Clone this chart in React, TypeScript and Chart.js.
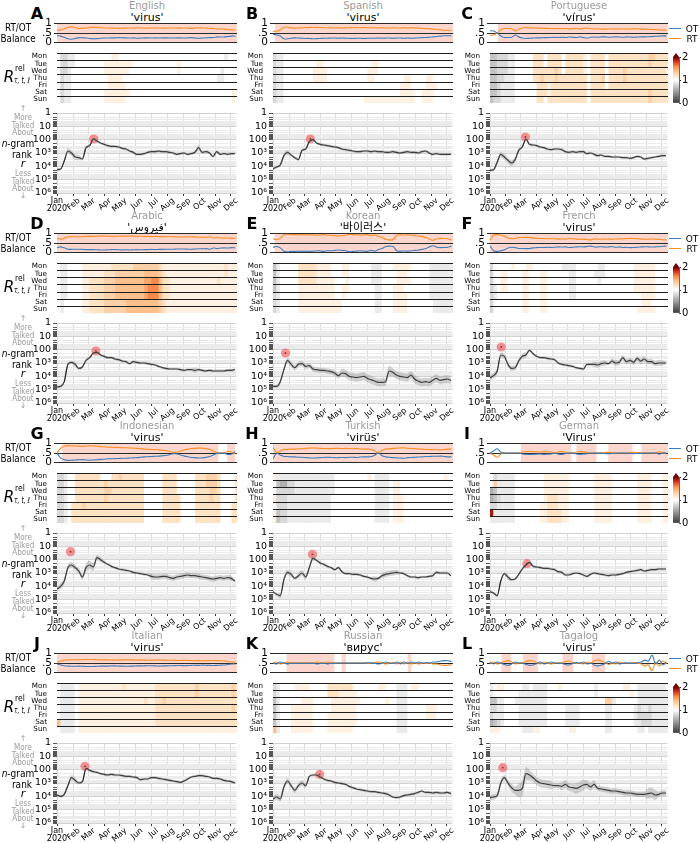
import React, { useEffect, useRef } from 'react';
import { Chart, registerables } from 'chart.js';

Chart.register(...registerables);
const FONT = "'DejaVu Sans', 'Noto Sans CJK KR', 'Noto Sans', sans-serif";
Chart.defaults.font.family = FONT;
Chart.defaults.color = '#000';

// ---------- axes / labels ----------
const MONTH_DAYS = [0, 31, 60, 91, 121, 152, 182, 213, 244, 274, 305, 335];
const MONTH_LABELS = ['', 'Feb', 'Mar', 'Apr', 'May', 'Jun', 'Jul', 'Aug', 'Sep', 'Oct', 'Nov', 'Dec'];
const DAY_LABELS = ['Mon', 'Tue', 'Wed', 'Thu', 'Fri', 'Sat', 'Sun'];
const RANK_TICKS = [1, 10, 100, 1000, 10000, 100000, 1000000];
const RANK_TICK_LABELS = ['1', '10', '100', '10³', '10⁴', '10⁵', '10⁶'];
const BAL_TICKS = [0, 0.5, 1];
const BAL_TICK_LABELS = ['0', '.5', '1'];
const CBAR_TICKS = [0, 1, 2];
const X_MAX = 346;
const WEEK_STEP = 7;

// ---------- rank series (log10 of n-gram rank, weekly) ----------
const rankA = [4.25,4.2,3.6,2.85,3.0,3.3,3.35,3.45,2.6,2.45, 1.95,2.1,2.25,2.35,2.45,2.5,2.5,2.55,2.65,2.7, 2.85,2.95,3.1,3.1,3.05,2.95,2.9,2.9,2.85,2.9, 2.9,2.95,3.0,3.1,3.05,3.0,3.1,3.05,2.95,2.6, 2.95,2.9,3.0,3.25,2.9,3.1,3.05,3.1,3.05,3.05];
const rankB = [4.2,4.05,3.9,3.2,2.95,3.15,3.35,3.5,2.8,2.7, 2.15,2.0,2.25,2.35,2.4,2.45,2.5,2.55,2.6,2.7, 2.75,2.8,2.85,2.9,2.9,2.85,2.85,2.9,2.85,2.9, 2.9,2.95,2.95,2.9,2.95,3.0,2.95,2.9,2.95,2.95, 3.0,2.9,2.85,3.0,3.1,3.05,3.1,3.1,3.1,3.1];
const rankC = [4.3,4.25,3.7,3.1,3.3,3.55,3.75,3.5,2.8,2.55, 1.95,2.35,2.4,2.45,2.55,2.6,2.7,2.75,2.7,2.7, 2.75,2.9,2.95,2.9,2.95,2.9,2.9,3.05,3.0,3.1, 3.2,3.15,3.25,3.25,3.3,3.3,3.3,3.35,3.35,3.4, 3.35,3.25,3.3,3.45,3.4,3.35,3.3,3.25,3.2,3.2];
const rankD = [4.8,4.75,4.4,3.1,2.95,3.1,3.4,3.3,2.8,2.6, 2.25,2.2,2.4,2.5,2.6,2.6,2.7,2.75,2.85,2.9, 3.05,2.9,2.95,3.0,3.0,3.05,3.1,3.15,3.25,3.35, 3.4,3.45,3.45,3.45,3.5,3.55,3.5,3.5,3.55,3.5, 3.55,3.6,3.55,3.6,3.6,3.6,3.6,3.55,3.55,3.5];
const rankE = [4.75,4.75,4.4,3.5,2.8,3.1,3.35,3.1,3.05,3.25, 3.2,3.45,3.5,3.55,3.55,3.6,3.65,3.75,3.95,3.75, 3.8,4.0,4.05,4.1,4.05,4.0,4.15,4.25,4.35,4.45, 4.45,4.4,3.6,3.7,3.9,4.0,4.05,4.1,3.9,4.2, 4.35,4.45,4.4,4.45,4.3,4.15,4.3,4.25,4.2,4.3];
const rankF = [4.1,3.95,3.6,2.4,2.5,3.1,3.4,3.35,2.85,2.5, 2.4,2.05,2.3,2.5,2.6,2.6,2.65,2.7,2.75,3.0, 3.1,3.15,3.2,3.25,3.35,3.4,3.45,3.1,3.1,3.1, 3.15,3.05,3.0,3.05,2.85,3.0,2.95,2.6,2.9,2.8, 2.95,2.65,2.85,2.7,2.9,2.9,3.05,3.0,3.0,3.0];
const rankG = [4.2,4.0,3.6,2.6,2.4,2.6,2.85,3.3,2.6,2.4, 2.55,1.85,2.0,2.2,2.35,2.5,2.6,2.7,2.75,2.8, 2.85,2.95,3.0,3.05,3.1,3.15,3.25,3.3,3.3,3.25, 3.25,3.35,3.4,3.3,3.25,3.2,3.15,3.2,3.2,3.25, 3.3,3.35,3.4,3.45,3.4,3.35,3.4,3.35,3.4,3.6];
const rankH = [4.4,4.6,4.7,3.5,2.95,3.1,3.4,3.2,3.0,3.3, 2.6,1.9,2.05,2.25,2.35,2.5,2.6,2.75,2.6,2.9, 3.05,3.05,3.1,3.1,3.15,3.25,3.3,3.4,3.45,3.4, 3.2,3.1,3.05,3.0,2.95,3.0,3.05,3.2,3.3,3.3, 3.35,3.3,3.3,3.25,3.2,2.95,3.0,3.0,3.0,3.2];
const rankI = [4.4,4.5,4.7,3.6,3.05,3.3,3.5,3.45,3.1,2.7, 2.4,2.2,2.5,2.55,2.6,2.65,2.65,2.7,2.75,2.9, 2.95,3.15,3.15,3.05,3.0,3.05,3.15,3.25,3.1,3.0, 3.05,3.1,3.15,3.2,3.15,3.15,3.1,3.05,2.95,2.9, 2.85,2.8,2.75,2.85,2.8,2.75,2.75,2.7,2.7,2.7];
const rankJ = [3.9,4.0,3.85,3.2,2.6,2.8,3.0,2.9,1.9,2.05, 2.15,2.2,2.3,2.35,2.4,2.35,2.4,2.4,2.45,2.5, 2.5,2.55,2.6,2.75,2.7,2.7,2.6,2.6,2.65,2.7, 2.75,2.8,2.85,2.9,2.95,2.85,2.7,2.55,2.5,2.45, 2.45,2.5,2.55,2.65,2.65,2.7,2.8,2.85,2.9,3.0];
const rankK = [4.2,4.05,4.2,3.3,2.85,3.2,3.55,3.2,3.0,3.2, 2.5,2.4,2.4,2.55,2.7,2.8,2.85,2.95,3.0,3.05, 3.1,3.25,3.35,3.45,3.5,3.55,3.6,3.65,3.65,3.7, 3.75,3.8,3.9,4.05,4.1,4.05,3.95,3.9,3.85,3.8, 3.7,3.6,3.7,3.7,3.75,3.7,3.75,3.75,3.7,3.8];
const rankL = [4.1,4.05,3.95,3.0,2.6,3.0,3.35,3.55,3.55,3.4, 2.3,2.4,2.6,2.85,3.0,3.05,3.1,3.15,3.2,3.2, 3.25,3.1,3.3,3.35,3.4,3.3,3.15,3.1,3.3,3.1, 3.4,3.45,3.5,3.55,3.6,3.6,3.65,3.7,3.75,3.75, 3.8,3.85,3.85,3.85,3.8,3.75,3.9,3.85,3.75,3.75];

// band half-width around rank line, tenths of a decade, weekly
const spreadA = '1112222111 1111111111 1111111111 1111111112 1111111111';
const spreadB = '1112211111 1111111111 1111111111 1111111111 1111111111';
const spreadC = '1122222221 1111111111 1111111111 1111111111 1111111111';
const spreadD = '1111121111 1111111111 1111111111 1111111121 1111111111';
const spreadE = '1122222222 2222222223 3333333333 3343333333 3333333333';
const spreadF = '2222222222 2111111111 1111111112 2221222222 2222222221';
const spreadG = '1222222233 3221111111 1111112222 2222222222 2222222221';
const spreadH = '1122221222 2211111111 1111111121 2222211111 1111111111';
const spreadI = '1111121111 1111111111 1111111111 1111111111 1111111111';
const spreadJ = '1111221111 1111111111 1111111111 1111111111 1111111111';
const spreadK = '2222222222 1111111111 1111111111 1111111111 1111111111';
const spreadL = '2222223356 5433333322 3333444333 2222222222 2222444222';

// peak marker: [day, log10 rank]
const peakA = [71, 1.95], peakB = [72, 1.95], peakC = [69, 1.8], peakD = [75, 2.1];
const peakE = [24, 2.25], peakF = [22, 1.8], peakG = [26, 1.4], peakH = [76, 1.6];
const peakI = [72, 2.3], peakJ = [54, 1.75], peakK = [90, 2.35], peakL = [25, 1.85];

// ---------- RT share of usage (OT = 1 - RT), weekly ----------
const rtA = [0.63,0.66,0.72,0.8,0.82,0.78,0.74,0.75,0.76,0.78, 0.8,0.79,0.77,0.76,0.76,0.75,0.75,0.74,0.75,0.75, 0.76,0.75,0.77,0.76,0.75,0.75,0.76,0.75,0.76,0.75, 0.75,0.76,0.76,0.75,0.75,0.76,0.75,0.74,0.76,0.77, 0.76,0.75,0.74,0.73,0.7,0.71,0.7,0.68,0.66,0.66];
const rtB = [0.58,0.6,0.66,0.8,0.8,0.77,0.75,0.76,0.77,0.78, 0.78,0.8,0.79,0.78,0.77,0.77,0.76,0.76,0.77,0.76, 0.77,0.77,0.78,0.77,0.77,0.78,0.77,0.77,0.77,0.76, 0.77,0.76,0.76,0.77,0.76,0.76,0.77,0.76,0.77,0.76, 0.75,0.74,0.73,0.72,0.7,0.68,0.66,0.64,0.64,0.64];
const rtC = [0.38,0.4,0.5,0.65,0.73,0.73,0.72,0.6,0.7,0.76, 0.78,0.77,0.76,0.75,0.75,0.74,0.74,0.73,0.72,0.73, 0.72,0.73,0.71,0.72,0.73,0.7,0.74,0.76,0.72,0.71, 0.72,0.7,0.7,0.72,0.71,0.7,0.71,0.72,0.7,0.71, 0.72,0.71,0.7,0.7,0.69,0.68,0.67,0.66,0.65,0.65];
const rtD = [0.74,0.7,0.75,0.82,0.83,0.82,0.82,0.83,0.84,0.84, 0.84,0.85,0.86,0.86,0.85,0.84,0.84,0.85,0.86,0.85, 0.86,0.85,0.84,0.85,0.84,0.84,0.83,0.84,0.83,0.83, 0.82,0.82,0.82,0.81,0.81,0.81,0.82,0.82,0.81,0.8, 0.8,0.79,0.82,0.76,0.78,0.76,0.75,0.76,0.74,0.75];
const rtE = [0.72,0.68,0.75,0.92,0.95,0.93,0.93,0.92,0.93,0.92, 0.93,0.92,0.9,0.91,0.93,0.9,0.9,0.88,0.86,0.88, 0.9,0.95,0.93,0.92,0.9,0.92,0.93,0.88,0.92,0.84, 0.78,0.68,0.66,0.68,0.9,0.92,0.91,0.92,0.9,0.88, 0.86,0.83,0.78,0.7,0.64,0.72,0.74,0.73,0.72,0.66];
const rtF = [0.65,0.9,0.93,0.9,0.85,0.76,0.72,0.74,0.78,0.78, 0.79,0.78,0.75,0.74,0.73,0.73,0.72,0.73,0.72,0.7, 0.71,0.7,0.73,0.72,0.7,0.69,0.7,0.68,0.66,0.71, 0.7,0.69,0.71,0.7,0.69,0.72,0.7,0.73,0.72,0.74, 0.73,0.72,0.7,0.69,0.7,0.71,0.7,0.69,0.67,0.66];
const rtG = [0.5,0.75,0.85,0.88,0.87,0.86,0.85,0.84,0.86,0.87, 0.86,0.85,0.83,0.82,0.8,0.8,0.79,0.78,0.77,0.77, 0.76,0.75,0.74,0.72,0.7,0.69,0.68,0.67,0.66,0.64, 0.62,0.58,0.53,0.55,0.6,0.66,0.7,0.73,0.74,0.76, 0.75,0.72,0.68,0.6,0.52,0.5,0.52,0.58,0.55,0.44];
const rtH = [0.8,0.52,0.6,0.68,0.68,0.7,0.7,0.72,0.72,0.74, 0.75,0.76,0.75,0.74,0.73,0.72,0.73,0.74,0.74,0.73, 0.74,0.72,0.72,0.73,0.71,0.7,0.7,0.68,0.6,0.5, 0.64,0.7,0.72,0.74,0.75,0.76,0.77,0.74,0.73,0.72, 0.71,0.7,0.68,0.68,0.67,0.67,0.66,0.68,0.7,0.7];
const rtI = [0.5,0.4,0.28,0.45,0.5,0.5,0.5,0.5,0.5,0.55, 0.57,0.58,0.57,0.56,0.55,0.57,0.56,0.55,0.5,0.56, 0.57,0.53,0.5,0.5,0.55,0.57,0.55,0.53,0.5,0.5, 0.5,0.5,0.53,0.54,0.52,0.5,0.5,0.5,0.5,0.52, 0.53,0.52,0.52,0.5,0.5,0.5,0.5,0.56,0.5,0.5];
const rtJ = [0.55,0.6,0.64,0.66,0.67,0.67,0.66,0.67,0.68,0.68, 0.68,0.67,0.66,0.66,0.66,0.65,0.65,0.66,0.66,0.67, 0.66,0.66,0.65,0.65,0.65,0.64,0.64,0.65,0.66,0.65, 0.65,0.64,0.64,0.63,0.63,0.64,0.63,0.62,0.62,0.62, 0.61,0.62,0.62,0.63,0.62,0.61,0.6,0.58,0.55,0.55];
const rtK = [0.5,0.55,0.45,0.5,0.55,0.5,0.52,0.5,0.52,0.5, 0.52,0.5,0.55,0.52,0.5,0.55,0.5,0.52,0.5,0.5, 0.5,0.5,0.5,0.5,0.5,0.52,0.48,0.5,0.52,0.55, 0.5,0.45,0.5,0.52,0.45,0.55,0.45,0.52,0.45,0.5, 0.45,0.5,0.48,0.5,0.45,0.45,0.4,0.38,0.38,0.42];
const rtL = [0.45,0.55,0.45,0.5,0.58,0.62,0.55,0.45,0.5,0.5, 0.58,0.62,0.6,0.52,0.45,0.55,0.5,0.45,0.5,0.5, 0.52,0.58,0.6,0.52,0.48,0.5,0.45,0.55,0.5,0.62, 0.65,0.6,0.52,0.42,0.5,0.45,0.55,0.5,0.5,0.5, 0.52,0.48,0.45,0.35,0.4,0.1,0.55,0.35,0.6,0.45];

// RT-dominated periods (day ranges)
const shadeA = [[0, 346]], shadeB = [[4, 346]], shadeC = [[15, 346]], shadeD = [[0, 346]];
const shadeE = [[3, 346]], shadeF = [[0, 346]], shadeG = [[10, 310], [327, 342]], shadeH = [[0, 346]];
const shadeI = [[60, 158], [168, 207], [230, 277], [294, 346]], shadeJ = [[0, 346]];
const shadeK = [[26, 118], [132, 140], [259, 266]], shadeL = [[22, 41], [64, 93], [141, 162], [198, 224]];

// ---------- relative rank heatmaps: rows Mon..Sun, weekly columns ----------
// code: '0'..'9' = 0.0..0.9, 'a' = 1.0, 'b' = 1.1 ... 'k' = 2.0
const heatA = [
  'a8899aaaaa aaaaabbaaa aaaaaaaaaa aaaaaaaaaa aaaaaa9aaa',
  'a8899aaaaa aaabbbbbbb baaaaaaaaa aaabaaaaaa aaaaaaaaaa',
  'a889aaaaaa aaabbbbbbb aaaaaaaaaa aaabaaaaaa aaaaa9aaaa',
  'a899aaaaaa aaaabbbbaa aaaaaaaaaa aaaaaaaaaa aaaa99aaaa',
  'a899aaaaaa aaaabbbbba aaaaaaaaaa aaaaaaaaaa aaaaaaaaaa',
  'a899aaaaaa aaabbbbbbb aaaaaaaaaa aaaaaaaaaa aaaaaaaaba',
  'a899aaaaaa aaabbbbbba aaaaaaaaaa aaaaaaaaaa aaaaaaaaba',
];
const heatB = [
  '899aaaaaaa aaaaaaaaaa aaaaaaaaaa aaaaaaaaaa aaaaaaaaaa',
  '899aaaaaaa aabbaaaaaa aaaaaaabba aaaaaaaaaa aaaaaaaaaa',
  '899aaaaaaa abbbbaaaaa aaaaaabbba aaaaaaaaaa aaaaaaaaaa',
  '899aaaaaaa abbbbaaaaa aaaaaabbaa aaaaaabbaa aabbaaaaaa',
  '899aaaaaaa aaaaaaaaaa aaaaaaaaaa aaaaabbbaa aabbbaaaaa',
  '899aaaaaaa aaaaaaaaaa aaaaaaaaaa aaaaabbbba abbbaaaaaa',
  '899aaaaaaa aaaaaaaaaa aaaaabbbbb bbbbbbbbba abbbaaaaaa',
];
const heatC = [
  '7788899aaa aacccacccc acccccbacc ccaccccccc ccccddcccc',
  '7788899aaa aacccacccc acccccbacc ccaccccccc ccccdccccc',
  '7788899aaa aaccccccdc acccccbacc ccaccccdcc cccccccccb',
  '7788999aaa aaccdcccdc cccccccacc cdaccccdcc cccccccccc',
  '7789999aaa aaacccbccc cccccccacc ccaccccccc cccccccccc',
  '7789999aaa aaacccbccc cccccccacc cccccccccc ccccdccccc',
  '7889999aaa aaaccacccc cccccccacc cccccccccc ccccdccccc',
];
const heatD = [
  'a99aaaabbb bbbbbccccc cdddddddcb bbbbbbbbbb bbbbbbcbbb',
  'a99aaaabbb bbbcccdddd ddddeeeedc bbbbbbbbbb bbbbbbcbbb',
  'a99aaaabbc cccdddeeee eeeeffggec cbbbbbbbbb bbbbcbbbbb',
  'a99aaaabbc cccdddeeee eeeefgggec cbbbbbbbbb bbbbbbbbbb',
  'a99aaaabbc cccdddeeee eeeefgggec cbbbbbbbbb bbbbbbbbbb',
  'a9aaaaabbc cccdddddde eeeeeeeedc bbbbbbbbbb bbbbbbbbbb',
  'a9aaaaabbc cccdddddde eeeeeeeedc bbbbbbbbbb bbbbbbbbbb',
];
const heatE = [
  '79aaaaaccc ccbbbbaaab baaaaaa999 aaabbbbbaa aaa9999999',
  '79aaaaaccc ccbbbbaaab baaaaaa999 aaaabbbaaa aaa9999999',
  '79aaaaaccc ccbbbbbaaa baaaaaa999 aaaabbbbaa aaa9999999',
  '79aaaaabbb bbbbbbbaab baaaaaaa99 aaabbbaaaa aaa9999999',
  '89aaaaabbb bbbbbbbaab aaaaaaaa99 aaabbbbaaa aaa9999999',
  '89aaaaabbb bbbbbbbbba aaaaaaaa99 aaabbbbaaa aaaa999999',
  '89aaaaabbb bbbbbbbbba aaaaaaaa99 aaabbbbaaa aaaa999999',
];
const heatF = [
  '8aaaaabaaa bbaaaaaaaa 9999aaaaaa 99aaaaaaaa bbbbbbaaaa',
  '8aabbaaaab baaabbaaaa aa99aaaaa9 99aaaaaaaa bbbbbbaaaa',
  '8aabbaaaab baaabbaaaa aa99aaaaaa 9aaaaaaaaa bbbbbbaaaa',
  '89abbaaaab baaabbaaaa aa99aaaaaa aaaaaaaaaa bbbbbbaaaa',
  '89aaaaaaab baaabbaaaa aa99aaaaaa aaaaaaaaaa aabbbbaaaa',
  '8aaaaaaaab baaabbaaaa aaaaaaaaaa aaaaaaaaaa aabbbaaaaa',
  '8aaaaaaaab baaabbaaaa aaaaaaaaaa aaaaaaaaaa abbbbbaaaa',
];
const heatG = [
  '889aaccccc ccaaaccdcc ccccaaaaac cccaaaaacc cdddcaaaac',
  '889aaccccc cccdcccccc ccccaaaaac cccaaaaacc cdddcaaaac',
  '889aaccccc cccddccccc ccccaaaaac cccaaaaacc ccddcaaaac',
  '889aaccccc cccdcccccc ccccaaaaac ccccaaaacc ccdccaaaac',
  '889acccdcc cccccccccc ccccaaaaac ccccaaaacc cccccaaacc',
  '889acccccc cccccccccc ccccaaaaac ccccaaaacc cccccaaacc',
  '889acccccc cccccccccc ccccaaaaac ccccaaaacc cccccaaacc',
];
const heatH = [
  'b999999999 9999999aaa aaaaaaba99 99aaaaaaaa aaaaaaabaa',
  'a766889999 9999999aaa aaaaaaaa99 99abbaaaaa aaaaaaaaaa',
  'a888889999 9999999aaa aaaaaaaa99 99abbaaaaa aaaaaaaaaa',
  'b888999999 999999aaaa aaaaaaaa99 99abbbaaaa aaaaaaaaaa',
  'a888999999 999999aaaa aaaaaaaa99 99abbbaaaa aaaaaaaaaa',
  'b788999999 999999aaaa aaaaaaaa99 99abbbaaaa aaaaaaaaaa',
  'b788999999 999999aaaa aaaaaaaa99 99abbbaaaa aaaaaaaaaa',
];
const heatI = [
  'a899999aaa aaaaabbbbb bbaaaaaaab bbbbaaaaaa abbbbaaabb',
  'ad99999aaa aaaaabbbbb bbaaaaaaab bbbbaaaaaa abbbbaaabb',
  '6799999aaa aaaaabbbbb bbaaaaaaab bbbbaaaaaa abbbbaaabb',
  '6789999aaa aaaaabcccb bbaaaaaaab bbbbaaaaaa abbbbaaabb',
  '8899999aaa aaaabbcccb bbaaaaaaab bbbbaaaaaa abbbbaaabb',
  'j999999aaa aaaabbcccc bbaaaaaaab bbbbaaaaaa abbbbaaabb',
  '9999999aaa aaaabbcccc bbaaaaaaab bbbbaaaaaa abbbbaaabb',
];
const heatJ = [
  'a9999abbbb bbbbbbbbcb bbbbbbbccc ccccccccdc ccccccccdc',
  'a9999abbbb bbbbbbbbbb bbbbbbbccc ccccccccdc ccccccccdc',
  'a9999abbbb bbbbbbbbbb bbbbcbbccd cccccccccc cccccccccc',
  'a9999abbbb bbbbbbbbbb bbbbbbbccc cccccccccc ccccccccdc',
  'a9999abbbb bbbbbbbbbb bbbbbbbccc cccccccccc cccccccccc',
  'e9999abbbb bbbbbbbbbb bbbbbbbccc cccccccccc cccccccccc',
  'a9999abbbb bbbbbbbbbb bbbbbbbbbb bbbbbbbbbb bbbbbbbbbb',
];
const heatK = [
  '89aaaabbbb aaaaaccccc ccaaaaaaab baaa999abb aaaaaaaaaa',
  '89aaaaaaaa aaaaacccbb bbbaaaaaaa aaaa999aaa aaaaaaaaaa',
  '79aaaaaabb baaaaabbbb bbbbaaaaaa abaa999aaa aaaaaaaaaa',
  '79aaabbbbb baaaaabbbb bbbaaaaaaa aaaa999aaa aabbbaaaaa',
  '79aaabbbbb baaaabbbbb bbbaaaaaaa aaaa999aaa aabbbaaaaa',
  '79aaabbbbb baaaabbbbb bbbaaaaaaa aaaa999aaa aaaaaaaaaa',
  'e9aaabbbbb baaaabbbbb bbaaaaaaaa aaaa999aaa aaaaaaaaaa',
];
const heatL = [
  '9abbaaaaa9 9a9999aaab aaaaaaaaa9 aaaaaaabba a99999999a',
  '9aaaaaaa99 999999aaaa aaaaaaaaa9 aaaaaaaaab a999999999',
  '7799aaa999 999999aaaa aaaaaaaaaa aadd9aaaaa a999999999',
  '8899aaaa99 999999aaaa a9999aaaaa aa99aaaaaa 9899899999',
  '8999aaaa99 999999aaaa a9999aaaaa aa99aaaaaa 9888899999',
  '6789aaaa99 999999aaaa a9999aaaaa aa99aaaaaa 9988899999',
  'bbbaaaaaa9 99bbaaaaaa aabbaaaaaa aa99aaaaaa a99a999999',
];

const PANELS = [
  { id: 'A', lang: 'English', word: "'virus'", rank: rankA, spread: spreadA, peak: peakA, rt: rtA, shade: shadeA, heat: heatA },
  { id: 'B', lang: 'Spanish', word: "'virus'", rank: rankB, spread: spreadB, peak: peakB, rt: rtB, shade: shadeB, heat: heatB },
  { id: 'C', lang: 'Portuguese', word: "'vírus'", rank: rankC, spread: spreadC, peak: peakC, rt: rtC, shade: shadeC, heat: heatC },
  { id: 'D', lang: 'Arabic', word: "'فيروس'", rank: rankD, spread: spreadD, peak: peakD, rt: rtD, shade: shadeD, heat: heatD },
  { id: 'E', lang: 'Korean', word: "'바이러스'", rank: rankE, spread: spreadE, peak: peakE, rt: rtE, shade: shadeE, heat: heatE },
  { id: 'F', lang: 'French', word: "'virus'", rank: rankF, spread: spreadF, peak: peakF, rt: rtF, shade: shadeF, heat: heatF },
  { id: 'G', lang: 'Indonesian', word: "'virus'", rank: rankG, spread: spreadG, peak: peakG, rt: rtG, shade: shadeG, heat: heatG },
  { id: 'H', lang: 'Turkish', word: "'virüs'", rank: rankH, spread: spreadH, peak: peakH, rt: rtH, shade: shadeH, heat: heatH },
  { id: 'I', lang: 'German', word: "'Virus'", rank: rankI, spread: spreadI, peak: peakI, rt: rtI, shade: shadeI, heat: heatI },
  { id: 'J', lang: 'Italian', word: "'virus'", rank: rankJ, spread: spreadJ, peak: peakJ, rt: rtJ, shade: shadeJ, heat: heatJ },
  { id: 'K', lang: 'Russian', word: "'вирус'", rank: rankK, spread: spreadK, peak: peakK, rt: rtK, shade: shadeK, heat: heatK },
  { id: 'L', lang: 'Tagalog', word: "'virus'", rank: rankL, spread: spreadL, peak: peakL, rt: rtL, shade: shadeL, heat: heatL },
];

// ---------- styling / layout ----------
const AXW = 36;
const COL_LEFT = [57, 273, 490];
const COL_RIGHT = [237, 453, 668];
const LETTER_X = [37, 252, 467];
const ROW_H = 210;
const PAD = 8;
const OT_COLOR = '#3b7ec0';
const RT_COLOR = '#ff8c1f';
const SHADE_COLOR = 'rgba(244,120,90,0.3)';
const CMAP: [number, string][] = [
  [0, '#3a3a3a'], [1, '#ffffff'], [1.2, '#fde3c4'], [1.4, '#fcc08c'],
  [1.6, '#f7894a'], [1.8, '#d7301f'], [2, '#6e0000'],
];
const HEAT_CODES = '0123456789abcdefghijk';

function hexRgb(h: string) {
  return [parseInt(h.slice(1, 3), 16), parseInt(h.slice(3, 5), 16), parseInt(h.slice(5, 7), 16)];
}
function heatColor(v: number) {
  for (let i = 1; i < CMAP.length; i++) {
    if (v <= CMAP[i][0]) {
      const [v0, c0] = CMAP[i - 1];
      const [v1, c1] = CMAP[i];
      const t = (v - v0) / (v1 - v0);
      const a = hexRgb(c0), b = hexRgb(c1);
      return `rgb(${a.map((x, k) => Math.round(x + (b[k] - x) * t)).join(',')})`;
    }
  }
  return CMAP[CMAP.length - 1][1];
}
const parseHeat = (s: string) => s.replace(/ /g, '').split('').map((c) => HEAT_CODES.indexOf(c) / 10);
const parseSpread = (s: string) => s.replace(/ /g, '').split('').map((c) => Number(c) / 10);
const isPow10 = (v: number) => Math.abs(Math.log10(v) - Math.round(Math.log10(v))) < 1e-9;

const baseOpts = (padTop: number, padBottom: number) => ({
  animation: false,
  responsive: false,
  events: [],
  layout: { padding: { top: padTop, bottom: padBottom, left: 0, right: 4 } },
  plugins: { legend: { display: false }, tooltip: { enabled: false } },
});

function balanceConfig(p: any) {
  const xs = p.rt.map((_: number, i: number) => i * WEEK_STEP);
  return {
    type: 'line',
    data: {
      datasets: [
        { data: p.rt.map((v: number, i: number) => ({ x: xs[i], y: 1 - v })), borderColor: OT_COLOR, borderWidth: 1.1, pointRadius: 0, tension: 0.4 },
        { data: p.rt.map((v: number, i: number) => ({ x: xs[i], y: v })), borderColor: RT_COLOR, borderWidth: 1.1, pointRadius: 0, tension: 0.4 },
      ],
    },
    options: {
      ...baseOpts(PAD, PAD),
      scales: {
        x: { type: 'linear', min: 0, max: X_MAX, display: false },
        y: {
          type: 'linear', min: 0, max: 1,
          afterFit: (s: any) => { s.width = AXW; },
          afterBuildTicks: (s: any) => { s.ticks = BAL_TICKS.map((v) => ({ value: v })); },
          ticks: { autoSkip: false, callback: (_v: any, i: number) => BAL_TICK_LABELS[i], font: { size: 10.5 }, color: '#000', padding: 2 },
          grid: { color: '#2a2a2a', lineWidth: 1, tickLength: 3, tickColor: '#2a2a2a' },
          border: { display: false },
        },
      },
    },
    plugins: [{
      id: 'shade',
      beforeDraw(chart: any) {
        const { ctx, chartArea, scales } = chart;
        ctx.save();
        ctx.fillStyle = SHADE_COLOR;
        for (const [a, b] of p.shade) {
          const x1 = scales.x.getPixelForValue(a);
          const x2 = scales.x.getPixelForValue(Math.min(b, X_MAX));
          ctx.fillRect(x1, chartArea.top, x2 - x1, chartArea.bottom - chartArea.top);
        }
        ctx.restore();
      },
    }],
  };
}

function heatConfig(p: any) {
  const rows = p.heat.map(parseHeat);
  return {
    type: 'bar',
    data: {
      datasets: rows.map((vals: number[], r: number) => ({
        data: vals.map((_, i) => ({ x: i * WEEK_STEP + WEEK_STEP / 2, y: [r, r + 1] })),
        backgroundColor: vals.map(heatColor),
        borderWidth: 0,
        barPercentage: 1,
        categoryPercentage: 1,
        grouped: false,
      })),
    },
    options: {
      ...baseOpts(PAD, PAD),
      scales: {
        x: { type: 'linear', min: 0, max: X_MAX, display: false, offset: false },
        y: {
          type: 'linear', min: 0, max: 7, reverse: true,
          afterFit: (s: any) => { s.width = AXW; },
          afterBuildTicks: (s: any) => { s.ticks = DAY_LABELS.map((_, i) => ({ value: i + 0.5 })); },
          ticks: { autoSkip: false, callback: (_v: any, i: number) => DAY_LABELS[i], font: { size: 7.2 }, color: '#000', padding: 2 },
          grid: { display: false },
          border: { display: false },
        },
      },
    },
    plugins: [{
      id: 'rowlines',
      afterDatasetsDraw(chart: any) {
        const { ctx, chartArea, scales } = chart;
        ctx.save();
        ctx.strokeStyle = '#1e1e1e';
        ctx.lineWidth = 1;
        for (let r = 0; r < DAY_LABELS.length; r++) {
          const y = Math.round(scales.y.getPixelForValue(r)) + 0.5;
          ctx.beginPath();
          ctx.moveTo(chartArea.left, y);
          ctx.lineTo(chartArea.right, y);
          ctx.stroke();
        }
        ctx.restore();
      },
    }],
  };
}

function rankConfig(p: any) {
  const xs = p.rank.map((_: number, i: number) => i * WEEK_STEP);
  const sp = parseSpread(p.spread);
  const yTicks: number[] = [];
  for (let k = 0; k < RANK_TICKS.length - 1; k++) for (let m = 1; m <= 9; m++) yTicks.push(m * RANK_TICKS[k]);
  yTicks.push(RANK_TICKS[RANK_TICKS.length - 1]);
  const peakPt = [{ x: p.peak[0], y: 10 ** p.peak[1] }];
  const lineOpts = { pointRadius: 0, cubicInterpolationMode: 'monotone' };
  return {
    type: 'line',
    data: {
      datasets: [
        { data: p.rank.map((v: number, i: number) => ({ x: xs[i], y: 10 ** (v - sp[i]) })), borderWidth: 0, fill: false, ...lineOpts },
        { data: p.rank.map((v: number, i: number) => ({ x: xs[i], y: 10 ** (v + sp[i]) })), borderWidth: 0, fill: '-1', backgroundColor: 'rgba(150,150,150,0.42)', ...lineOpts },
        { data: p.rank.map((v: number, i: number) => ({ x: xs[i], y: 10 ** v })), borderColor: '#000', borderWidth: 1.2, fill: false, ...lineOpts },
        { data: peakPt, showLine: false, pointRadius: 4.6, pointBackgroundColor: 'rgba(238,78,78,0.6)', pointBorderWidth: 0 },
        { data: peakPt, showLine: false, pointRadius: 0.9, pointBackgroundColor: '#000', pointBorderWidth: 0 },
      ],
    },
    options: {
      ...baseOpts(PAD, 0),
      scales: {
        x: {
          type: 'linear', min: 0, max: X_MAX,
          afterFit: (s: any) => { s.height = 24; },
          afterBuildTicks: (s: any) => { s.ticks = MONTH_DAYS.map((v) => ({ value: v })); },
          ticks: { callback: (_v: any, i: number) => MONTH_LABELS[i], autoSkip: false, maxRotation: 40, minRotation: 40, font: { size: 8 }, color: '#000', padding: 0, labelOffset: 6 },
          grid: { color: '#d9d9d9', lineWidth: 1, tickLength: 3, tickColor: '#333' },
          border: { display: false },
        },
        y: {
          type: 'logarithmic', min: 1, max: 1e6, reverse: true,
          afterFit: (s: any) => { s.width = AXW; },
          afterBuildTicks: (s: any) => { s.ticks = yTicks.map((v) => ({ value: v })); },
          ticks: {
            autoSkip: false, font: { size: 9.5 }, color: '#000', padding: 2,
            callback: (v: number) => { const k = RANK_TICKS.indexOf(v); return k >= 0 ? RANK_TICK_LABELS[k] : ''; },
          },
          grid: {
            color: (c: any) => (c.tick && isPow10(c.tick.value) ? '#d2d2d2' : '#ebebeb'),
            lineWidth: 1, tickLength: 4, tickColor: '#555',
          },
          border: { display: false },
        },
      },
    },
  };
}

function colorbarConfig() {
  return {
    type: 'bar',
    data: {
      labels: [''],
      datasets: [{
        data: [[0, 2]],
        backgroundColor: (c: any) => {
          const area = c.chart.chartArea;
          if (!area) return '#fff';
          const g = c.chart.ctx.createLinearGradient(0, area.bottom, 0, area.top);
          CMAP.forEach(([v, col]) => g.addColorStop(v / 2, col));
          return g;
        },
        borderWidth: 0, barPercentage: 1, categoryPercentage: 1,
      }],
    },
    options: {
      animation: false, responsive: false, events: [],
      layout: { padding: { top: PAD, bottom: PAD, left: 0, right: 0 } },
      plugins: { legend: { display: false }, tooltip: { enabled: false } },
      scales: {
        x: { display: false },
        y: {
          position: 'right', min: 0, max: 2,
          afterFit: (s: any) => { s.width = 14; },
          afterBuildTicks: (s: any) => { s.ticks = CBAR_TICKS.map((v) => ({ value: v })); },
          ticks: { autoSkip: false, font: { size: 10 }, color: '#000', padding: 1, callback: (v: number) => String(v) },
          grid: { drawOnChartArea: false, tickLength: 2, tickColor: '#333' },
          border: { display: true, color: '#666' },
        },
      },
    },
    plugins: [{
      id: 'extend',
      afterDatasetsDraw(chart: any) {
        const { ctx, chartArea } = chart;
        ctx.save();
        ctx.fillStyle = CMAP[CMAP.length - 1][1];
        ctx.beginPath();
        ctx.moveTo(chartArea.left, chartArea.top);
        ctx.lineTo(chartArea.right, chartArea.top);
        ctx.lineTo((chartArea.left + chartArea.right) / 2, chartArea.top - 4);
        ctx.closePath();
        ctx.fill();
        ctx.restore();
      },
    }],
  };
}

function ChartBox({ left, top, width, height, make }: any) {
  const ref = useRef<HTMLCanvasElement>(null);
  useEffect(() => {
    const chart = new Chart(ref.current as HTMLCanvasElement, make());
    return () => chart.destroy();
  }, []);
  return <canvas ref={ref} width={width} height={height} style={{ position: 'absolute', left, top, width, height }} />;
}

function Txt({ x, y, size = 10, color = '#000', weight = 400, italic = false, sx = 1, children }: any) {
  return (
    <div style={{
      position: 'absolute', left: x, top: y, transform: `translate(-50%, -50%) scaleX(${sx})`,
      fontSize: size, color, fontWeight: weight, fontStyle: italic ? 'italic' : 'normal',
      fontFamily: FONT, whiteSpace: 'nowrap', lineHeight: 1,
    }}>{children}</div>
  );
}

function LeftLabels({ y0 }: any) {
  const g = '#9a9a9a';
  return (
    <>
      <Txt x={18} y={y0 + 27} size={11} sx={0.8}>RT/OT</Txt>
      <Txt x={18} y={y0 + 37.5} size={11} sx={0.8}>Balance</Txt>
      <Txt x={9} y={y0 + 77} size={15} italic>R</Txt>
      <Txt x={20} y={y0 + 67.5} size={9} sx={0.85}>rel</Txt>
      <Txt x={22} y={y0 + 81} size={8} italic sx={0.75}>τ, t, ℓ</Txt>
      <Txt x={23} y={y0 + 109} size={8} color={g}>↑</Txt>
      <Txt x={23} y={y0 + 117} size={8.5} color={g} sx={0.85}>More</Txt>
      <Txt x={23} y={y0 + 124.5} size={8.5} color={g} sx={0.85}>Talked</Txt>
      <Txt x={23} y={y0 + 132} size={8.5} color={g} sx={0.85}>About</Txt>
      <Txt x={18} y={y0 + 143} size={11} sx={0.82}><i>n</i>-gram</Txt>
      <Txt x={22} y={y0 + 153.5} size={11} sx={0.82}>rank</Txt>
      <Txt x={23} y={y0 + 163} size={11} italic>r</Txt>
      <Txt x={23} y={y0 + 173} size={8.5} color={g} sx={0.85}>Less</Txt>
      <Txt x={23} y={y0 + 180.5} size={8.5} color={g} sx={0.85}>Talked</Txt>
      <Txt x={23} y={y0 + 188} size={8.5} color={g} sx={0.85}>About</Txt>
      <Txt x={23} y={y0 + 196} size={8} color={g}>↓</Txt>
    </>
  );
}

function LegendAndBar({ y0 }: any) {
  return (
    <>
      <div style={{ position: 'absolute', left: 669, top: y0 + 27.5, width: 12, height: 1.6, background: OT_COLOR }} />
      <Txt x={692} y={y0 + 28.5} size={9}>OT</Txt>
      <div style={{ position: 'absolute', left: 669, top: y0 + 37.5, width: 12, height: 1.6, background: RT_COLOR }} />
      <Txt x={692} y={y0 + 38.5} size={9}>RT</Txt>
      <ChartBox left={673} top={y0 + 57 - PAD} width={6 + 14} height={PAD + 46 + PAD} make={colorbarConfig} />
    </>
  );
}

function Panel({ p, idx }: any) {
  const col = idx % 3;
  const row = Math.floor(idx / 3);
  const PL = COL_LEFT[col];
  const PW = COL_RIGHT[col] - PL;
  const y0 = row * ROW_H;
  const cx = PL + PW / 2;
  const w = AXW + PW + 4;
  return (
    <>
      <Txt x={LETTER_X[col]} y={y0 + 14} size={16} weight={700}>{p.id}</Txt>
      <Txt x={cx} y={y0 + 6} size={10} color="#9a9a9a">{p.lang}</Txt>
      <Txt x={cx} y={y0 + 16.5} size={11}>{p.word}</Txt>
      <ChartBox left={PL - AXW} top={y0 + 23 - PAD} width={w} height={PAD + 20 + PAD} make={() => balanceConfig(p)} />
      <ChartBox left={PL - AXW} top={y0 + 53 - PAD} width={w} height={PAD + 50 + PAD} make={() => heatConfig(p)} />
      <ChartBox left={PL - AXW} top={y0 + 113 - PAD} width={w} height={PAD + 80 + 24} make={() => rankConfig(p)} />
      <Txt x={PL} y={y0 + 201} size={8}>Jan</Txt>
      <Txt x={PL} y={y0 + 208.5} size={8}>2020</Txt>
      {col === 0 && <LeftLabels y0={y0} />}
      {col === 2 && <LegendAndBar y0={y0} />}
    </>
  );
}

export default function App() {
  return (
    <div style={{ position: 'absolute', left: 0, top: 0, width: 700, height: 843, overflow: 'hidden', background: '#fff', fontFamily: FONT }}>
      {PANELS.map((p, i) => <Panel key={p.id} p={p} idx={i} />)}
    </div>
  );
}
